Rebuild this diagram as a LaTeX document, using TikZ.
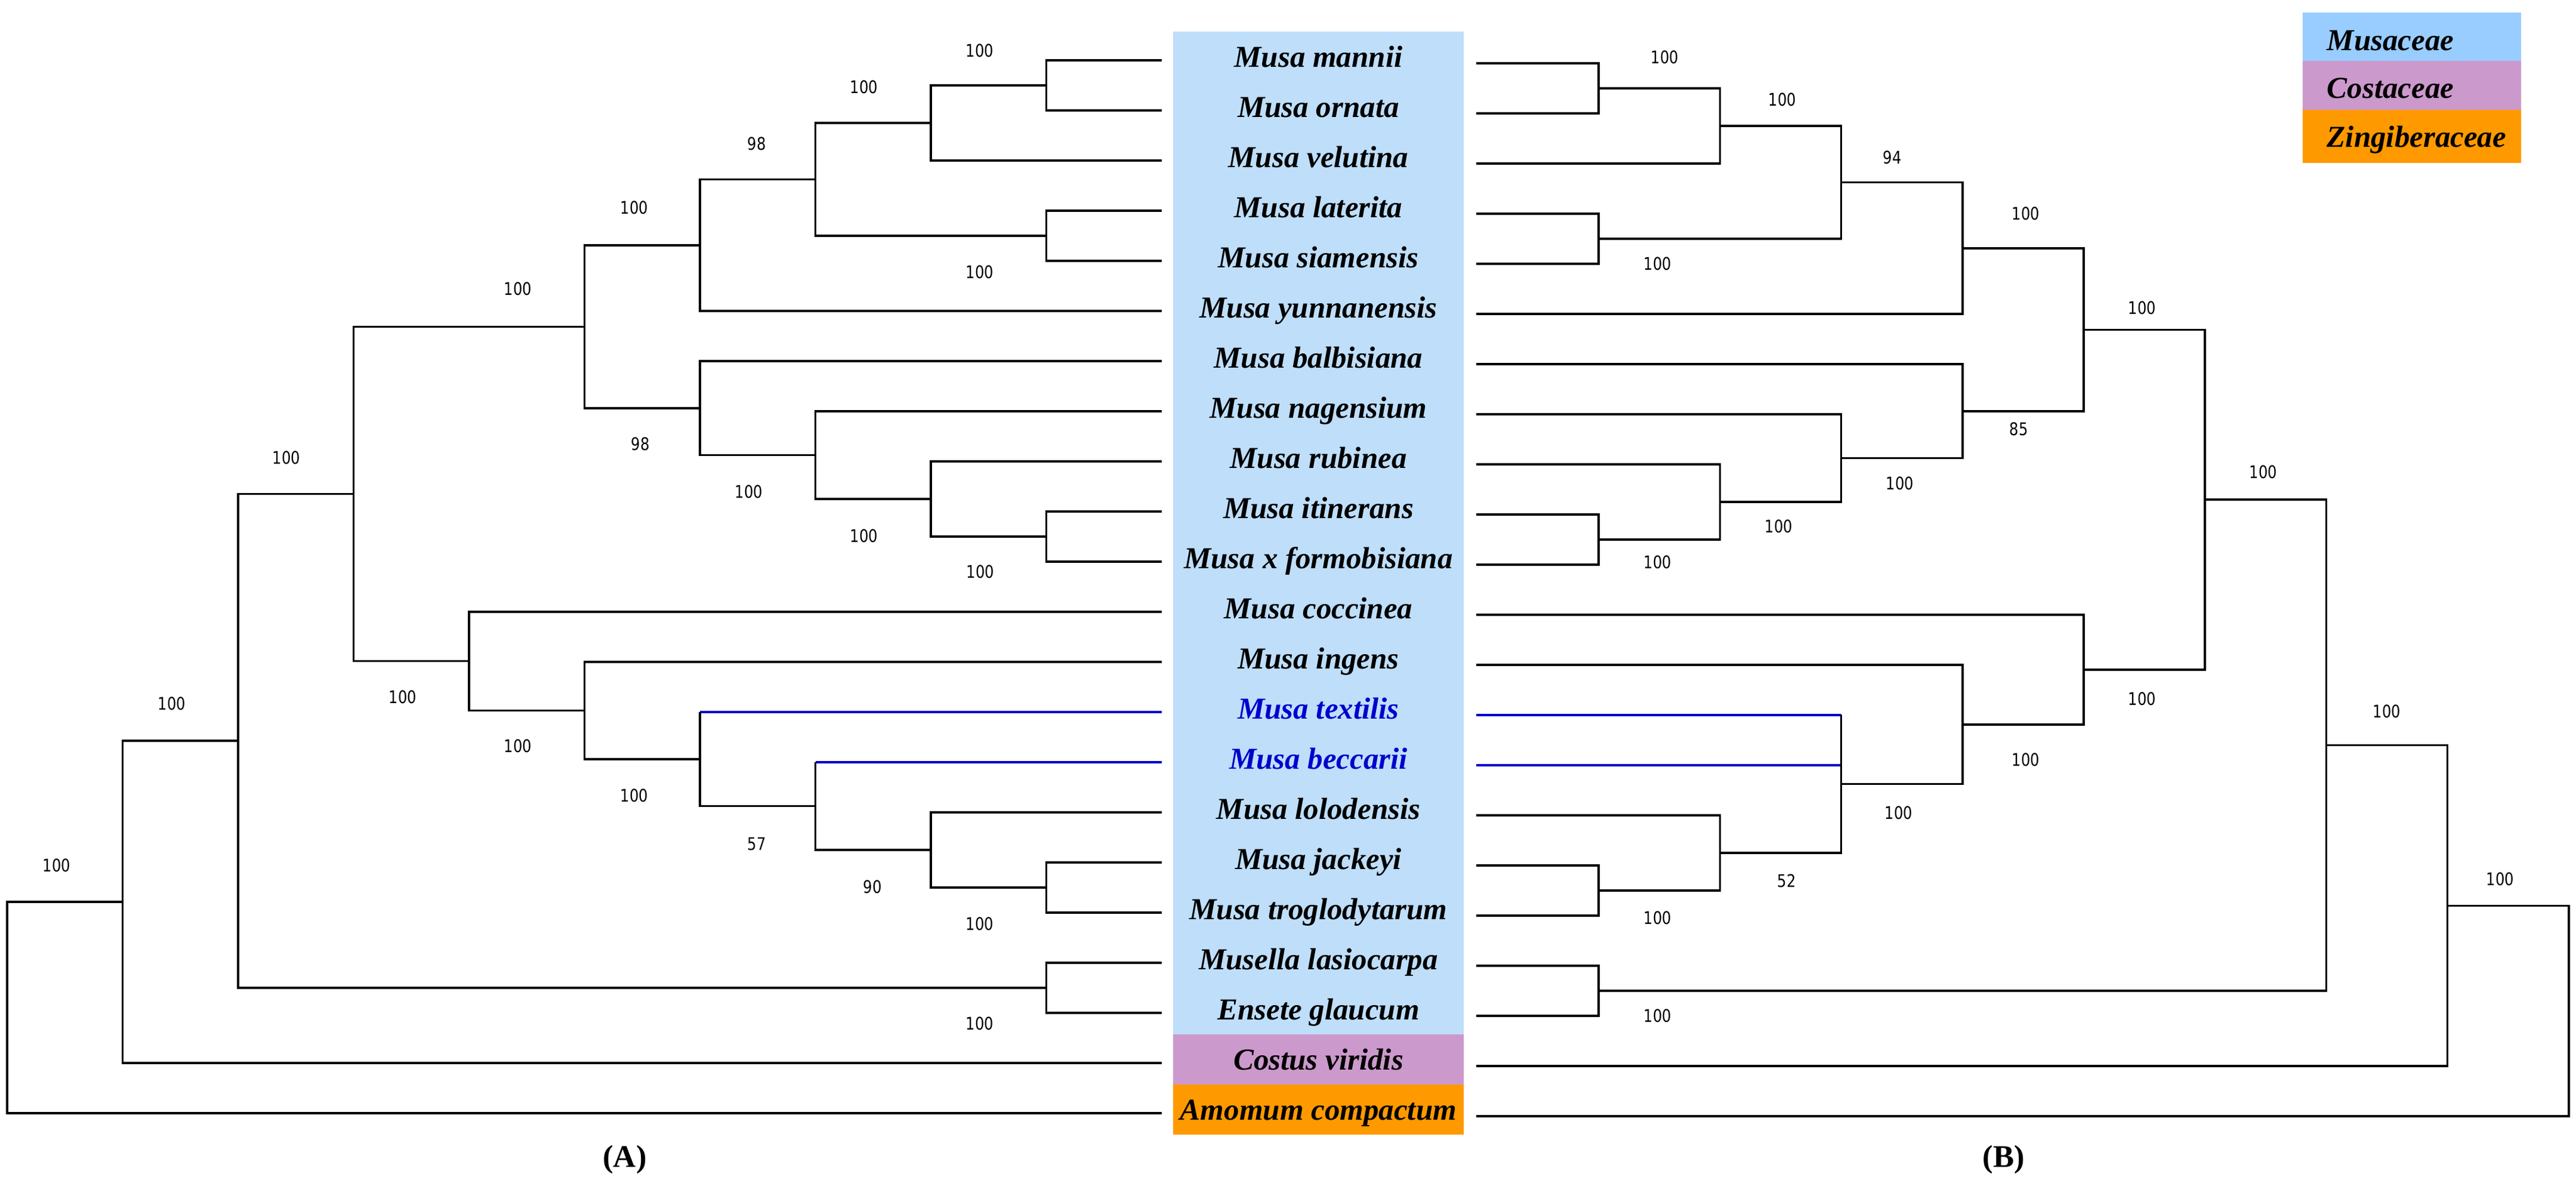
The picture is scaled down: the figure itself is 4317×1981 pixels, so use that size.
\documentclass[tikz,border=0pt]{standalone}
\usepackage{fontspec}
\setmainfont{Liberation Serif}
\newfontfamily\bsfont{DejaVu Sans}[FakeStretch=0.83]
\usetikzlibrary{positioning}

\definecolor{boxblue}{RGB}{190,222,250}
\definecolor{legblue}{RGB}{153,204,255}
\definecolor{cosviolet}{RGB}{204,153,204}
\definecolor{zinorange}{RGB}{255,153,0}
\definecolor{treeblue}{RGB}{0,0,204}

\begin{document}
\begin{tikzpicture}[
x=0.01cm,y=-0.01cm,
branch/.style={
	line width=1pt
},
hilite/.style={
	branch,
	draw=treeblue
},
taxon/.style={
	font=\fontsize{14.5}{17}\selectfont\bfseries\itshape,
	anchor=base,
	inner sep=0pt
},
bs/.style={
	font=\bsfont\fontsize{8.3}{10}\selectfont,
	inner sep=0pt
},
panel/.style={
	font=\fontsize{15}{18}\selectfont\bfseries,
	inner sep=0pt
}
]
\useasboundingbox (0,0) rectangle (4317,1981);

% colour bands behind the names
\fill[boxblue] (1966,53) rectangle (2453,1733);
\fill[cosviolet] (1966,1733) rectangle (2453,1817);
\fill[zinorange] (1966,1817) rectangle (2453,1901);

% legend
\fill[legblue] (3859,21) rectangle (4225,102);
\fill[cosviolet] (3859,102) rectangle (4225,184);
\fill[zinorange] (3859,184) rectangle (4225,273);
\node[taxon,anchor=base west] (lg1) at (3899,84) {Musaceae};
\node[taxon,anchor=base west] (lg2) at (3899,164) {Costaceae};
\node[taxon,anchor=base west] (lg3) at (3899,246) {Zingiberaceae};

% taxa and leaf ends
\foreach \i/\name/\col in {1/Musa mannii/black,2/Musa ornata/black,
	3/Musa velutina/black,4/Musa laterita/black,5/Musa siamensis/black,
	6/Musa yunnanensis/black,7/Musa balbisiana/black,8/Musa nagensium/black,
	9/Musa rubinea/black,10/Musa itinerans/black,11/Musa x formobisiana/black,
	12/Musa coccinea/black,13/Musa ingens/black,14/Musa textilis/treeblue,
	15/Musa beccarii/treeblue,16/Musa lolodensis/black,17/Musa jackeyi/black,
	18/Musa troglodytarum/black,19/Musella lasiocarpa/black,
	20/Ensete glaucum/black,21/Costus viridis/black,22/Amomum compactum/black}
{
	\pgfmathsetmacro\y{101+84*(\i-1)}
	\coordinate (l\i) at (1947,\y);
	\coordinate (r\i) at (2474,\y+5);
	\node[taxon,text=\col] (t\i) at (2209.5,\y+11) {\name};
}

% (A) internal nodes
\foreach \n/\x/\y in {a1/1753.5/143,a2/1560/206,a3/1753.5/395,a4/1366.5/300.5,
	a5/1173/410.75,a6/1753.5/899,a7/1560/836,a8/1366.5/762.5,a9/1173/683.75,
	a10/979.5/547.25,a11/1753.5/1487,a12/1560/1424,a13/1366.5/1350.5,
	a14/1173/1271.75,a15/979.5/1190.4,a16/786/1107.7,a17/592.5/827.5,
	a18/1753.5/1655,a19/399/1241.2,a20/205.5/1511.1,a21/12/1688.1}
\coordinate (\n) at (\x,\y);

% (B) internal nodes
\foreach \n/\x/\y in {b1/2679/148,b2/2882.4/211,b3/2679/400,b4/3085.6/305.5,
	b5/3288.8/415.75,b6/2679/904,b7/2882.4/841,b8/3085.6/767.5,b9/3288.8/688.75,
	b10/3492/552.25,b11/2679/1492,b12/2882.4/1429,b13/3085.6/1313.5,
	b14/3288.8/1213.75,b15/3492/1121.9,b16/3695/837.1,b17/2679/1660,
	b18/3898.4/1248.5,b19/4101.6/1517.3,b20/4304.8/1693.6}
\coordinate (\n) at (\x,\y);

% branches
\foreach \n/\p/\q in {a1/l1/l2,a2/a1/l3,a3/l4/l5,a4/a2/a3,a5/a4/l6,a6/l10/l11,
	a7/l9/a6,a8/l8/a7,a9/l7/a8,a10/a5/a9,a11/l17/l18,a12/l16/a11,a15/l13/a14,
	a16/l12/a15,a17/a10/a16,a18/l19/l20,a19/a17/a18,a20/a19/l21,a21/a20/l22,
	b1/r1/r2,b2/b1/r3,b3/r4/r5,b4/b2/b3,b5/b4/r6,b6/r10/r11,b7/r9/b6,b8/r8/b7,
	b9/r7/b8,b10/b5/b9,b11/r17/r18,b12/r16/b11,b14/r13/b13,b15/r12/b14,
	b16/b10/b15,b17/r19/r20,b18/b16/b17,b19/b18/r21,b20/b19/r22}
\draw[branch] (\p) -| (\n) |- (\q);

\draw[hilite] (l14) -- (l14 -| a14);
\draw[branch] (l14 -| a14) |- (a13);
\draw[hilite] (l15) -- (l15 -| a13);
\draw[branch] (l15 -| a13) |- (a12);
\draw[hilite] (r14) -- (r14 -| b13);
\draw[hilite] (r15) -- (r15 -| b13);
\draw[branch] (r14 -| b13) |- (b12);

% bootstrap values
\foreach \n/\x/\y/\v in {a1/1642/85/100,a2/1448/146/100,a3/1642/456/100,
	a4/1268/241/98,a5/1063/348/100,a6/1643/958/100,a7/1448/898/100,
	a8/1255/824/100,a9/1073/744/98,a10/868/484/100,a11/1642/1548/100,
	a12/1462/1486/90,a13/1268/1414/57,a14/1063/1333/100,a15/868/1250/100,
	a16/675/1168/100,a17/480/767/100,a18/1642/1715/100,a19/288/1179/100,
	a20/95/1450/100,
	b1/2790/96/100,b2/2987/167/100,b3/2778/442/100,b4/3171/264/94,
	b5/3395/358/100,b6/2778/942/100,b7/2981/882/100,b8/3184/810/100,
	b9/3383/719/85,b10/3590/516/100,b11/2778/1538/100,b12/2994/1476/52,
	b13/3182/1362/100,b14/3395/1273/100,b15/3590/1171/100,b16/3793/791/100,
	b17/2778/1702/100,b18/4000/1192/100,b19/4190/1473/100}
\node[bs] (s\n) at (\x,\y) {\v};

\node[panel] (pA) at (1047,1943) {(A)};
\node[panel] (pB) at (3358,1943) {(B)};
\end{tikzpicture}
\end{document}
